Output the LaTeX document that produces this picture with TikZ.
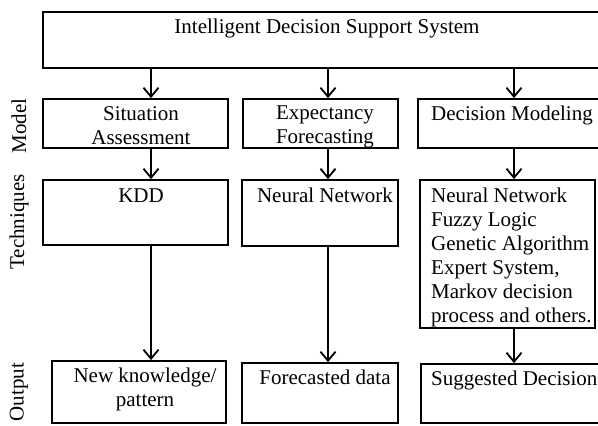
\documentclass[tikz,border=0pt]{standalone}
\usepackage{fontspec}
\setmainfont{Liberation Serif}
\usetikzlibrary{arrows.meta,fit}

\begin{document}
\begin{tikzpicture}[x=1pt,y=-1pt,font=\fontsize{21}{24}\selectfont,box/.style={draw,line width=1.8pt,inner sep=0pt,fit={#1}},txt/.style={anchor=base,inner sep=0pt},lbl/.style={rotate=90,inner sep=0pt},>={Straight Barb[length=9pt,width=15pt]}]
\clip (0,0) rectangle (598,426);
% side labels
\node[lbl] (lmodel) at (19,126) {Model};
\node[lbl] (ltech) at (19,222) {Techniques};
\node[lbl] (lout) at (19,392) {Output};
% top box
\node[box={(43,12)(615,68)}] (ids) {};
\node[txt] (idst) at (327,33) {Intelligent Decision Support System};
% model row (base = last line)
\node[box={(43,99)(228,148)}] (sa) {};
\node[txt,align=center] (sat) at (141,144) {Situation\\Assessment};
\node[box={(243,99)(398,148)}] (ef) {};
\node[txt,align=center] (eft) at (325,143.5) {Expectancy\\Forecasting};
\node[box={(418,99)(620,148)}] (dm) {};
\node[txt,anchor=base west] (dmt) at (431,120) {Decision Modeling};
% techniques row
\node[box={(43,180)(228,245)}] (kdd) {};
\node[txt] (kddt) at (141,202) {KDD};
\node[box={(242,180)(398,246)}] (nn) {};
\node[txt] (nnt) at (325,202) {Neural Network};
\node[box={(420,180)(595,328)}] (ai) {};
\node[txt,anchor=base west,align=left] (ait) at (431,322) {Neural Network\\Fuzzy Logic\\Genetic Algorithm\\Expert System,\\Markov decision\\process and others.};
% output row
\node[box={(52,361)(226,423)}] (nk) {};
\node[txt,align=center] (nkt) at (145,406) {New knowledge/\\pattern};
\node[box={(242,363)(398,423)}] (fd) {};
\node[txt] (fdt) at (325,384) {Forecasted data};
\node[box={(421,364)(620,423)}] (sd) {};
\node[txt,anchor=base west] (sdt) at (431,385) {Suggested Decision};
% arrows
\coordinate (ca) at (151,0);
\coordinate (cb) at (328,0);
\coordinate (cc) at (514,0);
\draw[->,line width=1.8pt] (ids.south -| ca) -- (sa.north -| ca);
\draw[->,line width=1.8pt] (ids.south -| cb) -- (ef.north -| cb);
\draw[->,line width=1.8pt] (ids.south -| cc) -- (dm.north -| cc);
\draw[->,line width=1.8pt] (sa.south -| ca) -- (kdd.north -| ca);
\draw[->,line width=1.8pt] (ef.south -| cb) -- (nn.north -| cb);
\draw[->,line width=1.8pt] (dm.south -| cc) -- (ai.north -| cc);
\draw[->,line width=1.8pt] (kdd.south -| ca) -- (nk.north -| ca);
\draw[->,line width=1.8pt] (nn.south -| cb) -- (fd.north -| cb);
\draw[->,line width=1.8pt] (ai.south -| cc) -- (sd.north -| cc);
\end{tikzpicture}
\end{document}
